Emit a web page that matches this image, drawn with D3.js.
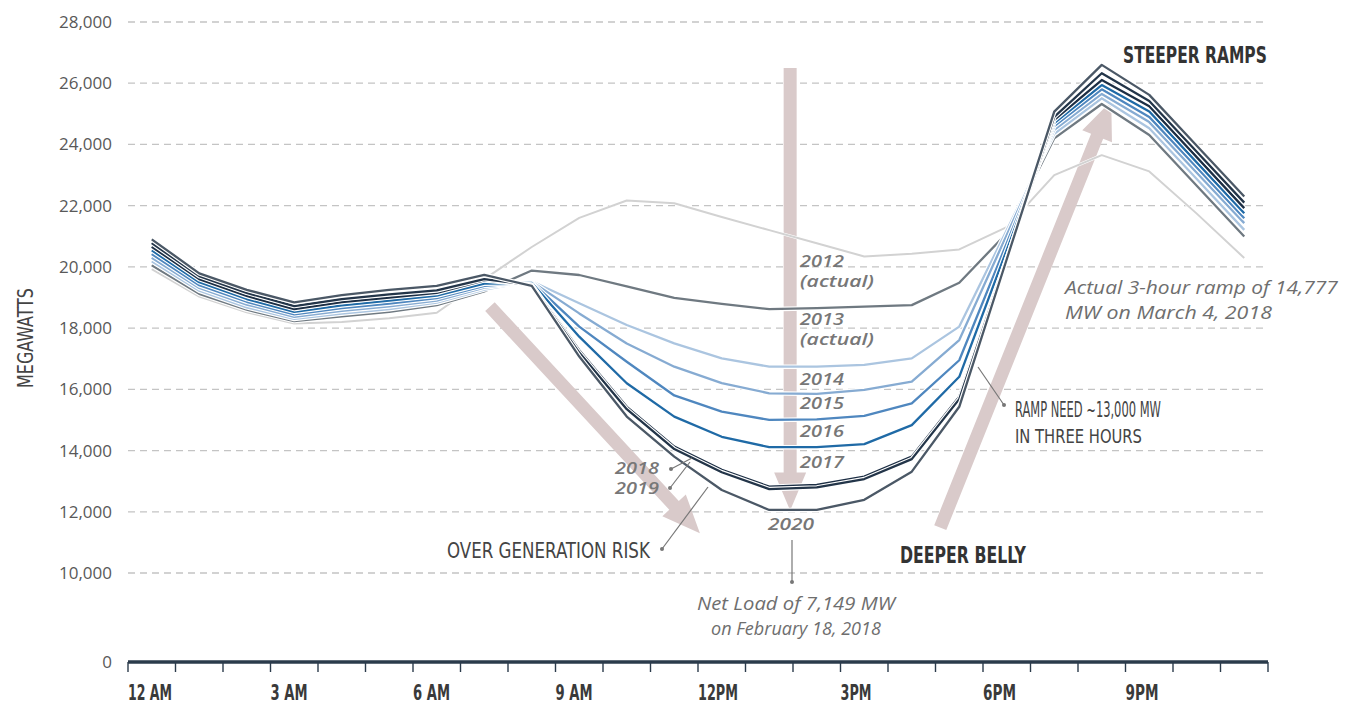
<!DOCTYPE html>
<html><head><meta charset="utf-8">
<script src="https://cdn.jsdelivr.net/npm/d3@7"></script>
<style>
body{margin:0;background:#fff;}
svg{display:block;}
</style></head><body>
<svg id="chart" width="1352" height="704"></svg>
<script>
// ---------- DATA ----------
const hours = [0,1,2,3,4,5,6,7,8,9,10,11,12,13,14,15,16,17,18,19,20,21,22,23];
const years = ["2012","2013","2014","2015","2016","2017","2018","2019","2020"];
const load2012 = [19930,19030,18520,18150,18200,18320,18500,19600,20650,21600,22170,22080,21630,21200,20770,20340,20430,20570,21300,23000,23650,23120,21740,20290];
const load2013 = [20050,19120,18600,18230,18380,18530,18750,19200,19880,19735,19360,18990,18790,18620,18650,18700,18750,19480,21100,24200,25320,24310,22650,20990];
const load2014 = [20180,19220,18680,18300,18470,18620,18830,19260,19530,18810,18100,17500,17010,16740,16740,16800,17010,18050,21200,24350,25510,24530,22870,21210];
const load2015 = [20300,19310,18770,18370,18560,18710,18900,19320,19520,18480,17500,16740,16200,15870,15850,15980,16250,17610,21045,24480,25650,24730,23080,21430];
const load2016 = [20420,19400,18860,18450,18650,18800,18980,19380,19500,18050,16900,15800,15270,15000,15020,15130,15540,16950,20775,24600,25800,24900,23245,21590];
const load2017 = [20540,19500,18950,18530,18740,18900,19060,19450,19480,17720,16200,15110,14450,14110,14110,14210,14830,16410,20555,24700,25940,25080,23415,21750];
const load2018 = [20660,19600,19050,18620,18850,19000,19150,19560,19420,17280,15430,14130,13370,12820,12875,13150,13800,15760,20280,24800,26105,25250,23585,21920];
const load2019 = [20780,19700,19150,18720,18950,19100,19230,19600,19400,17200,15350,14050,13290,12740,12795,13070,13720,15680,20275,24900,26325,25420,23760,22100];
const load2020 = [20900,19790,19250,18840,19080,19250,19380,19740,19380,17070,15110,13800,12710,12060,12060,12390,13310,15430,20250,25070,26600,25620,23960,22300];
const seriesValues = [load2012,load2013,load2014,load2015,load2016,load2017,load2018,load2019,load2020];
const seriesColors = ["#d2d2d2","#6f7981","#abc5e0","#86abd2","#4f87bf","#1f6aa6","#1c2e44","#233549","#4b5866"];

const yTicks = [0,10000,12000,14000,16000,18000,20000,22000,24000,26000,28000];
const xTickHours = [0,1,2,3,4,5,6,7,8,9,10,11,12,13,14,15,16,17,18,19,20,21,22,23,24];
const xLabelHours = [0,3,6,9,12,15,18,21];
const xLabels = ["12 AM","3 AM","6 AM","9 AM","12PM","3PM","6PM","9PM"];
const xLabelWidths = [44,37,37,37,40,31,33,33];

// ---------- SCALES ----------
const svg = d3.select("#chart");
const x = d3.scaleLinear().domain([0,24]).range([128,1268]);
const y = d3.scaleLinear().domain([0,10000,28000]).range([662,573,22]);

const condensed = "'Liberation Sans Narrow','DejaVu Sans Condensed','Roboto Condensed','Liberation Sans',sans-serif";
const humanist = "'Open Sans','Noto Sans',sans-serif";

// squeeze a text horizontally to a target width (keeps height)
function fitWidth(sel, xx, yy, target){
  const w = sel.node().getComputedTextLength();
  const s = w > 0 ? target / w : 1;
  sel.attr("x",0).attr("y",0).attr("transform",`translate(${xx},${yy}) scale(${s},1)`);
}

// gridlines
svg.append("g").selectAll("line").data(yTicks.filter(d=>d>0)).join("line")
  .attr("x1",x(0)).attr("x2",x(24))
  .attr("y1",d=>y(d)).attr("y2",d=>y(d))
  .attr("stroke","#c4c4c4").attr("stroke-width",1.3).attr("stroke-dasharray","7,5");

// y axis labels
const yAxis = svg.append("g").attr("transform","translate(128,0)")
  .call(d3.axisLeft(y).tickValues(yTicks).tickFormat(d3.format(",")).tickSize(0).tickPadding(16));
yAxis.select(".domain").remove();
yAxis.selectAll("text").attr("font-family",humanist).attr("font-size",17).attr("fill","#595959");

// y title
svg.append("text").attr("transform","translate(33,338) rotate(-90)")
  .attr("text-anchor","middle").attr("font-family",condensed).attr("font-size",21)
  .attr("fill","#444").attr("textLength",100).attr("lengthAdjust","spacingAndGlyphs").text("MEGAWATTS");

// ---------- ARROWS (annotation, in data space) ----------
const arrows = [
  {t:[13.94,26500], h:[13.94,12040]},
  {t:[7.62,18700], h:[12.04,11300]},
  {t:[17.10,11480], h:[20.70,25420]}
];
function arrowPath(a){
  const x1=x(a.t[0]), y1=y(a.t[1]), x2=x(a.h[0]), y2=y(a.h[1]);
  const dx=x2-x1, dy=y2-y1, len=Math.hypot(dx,dy), ux=dx/len, uy=dy/len, nx=-uy, ny=ux;
  const w=6.5, H=16, L=38;
  const bx=x2-ux*L, by=y2-uy*L;
  const p=[[x1+nx*w,y1+ny*w],[bx+nx*w,by+ny*w],[bx+nx*H,by+ny*H],[x2,y2],[bx-nx*H,by-ny*H],[bx-nx*w,by-ny*w],[x1-nx*w,y1-ny*w]];
  return "M"+p.map(q=>q.join(",")).join("L")+"Z";
}
svg.append("g").selectAll("path").data(arrows).join("path")
  .attr("d",arrowPath).attr("fill","#d9caca");

// ---------- LINES ----------
const line = d3.line().x((d,i)=>x(hours[i]+0.5)).y(d=>y(d));
const lg = svg.append("g");
seriesValues.forEach((vals,k)=>{
  lg.append("path").attr("d",line(vals)).attr("fill","none")
    .attr("stroke","#fff").attr("stroke-width",k===0?3:4.6).attr("stroke-linejoin","round");
  lg.append("path").attr("d",line(vals)).attr("fill","none")
    .attr("stroke",seriesColors[k]).attr("stroke-width",k===0?2:2.3).attr("stroke-linejoin","round");
});

// ---------- X AXIS ----------
svg.append("line").attr("x1",x(0)).attr("x2",x(24)).attr("y1",y(0)).attr("y2",y(0))
  .attr("stroke","#2b3b4b").attr("stroke-width",3.5);
svg.append("g").selectAll("line").data(xTickHours).join("line")
  .attr("x1",d=>x(d)).attr("x2",d=>x(d)).attr("y1",y(0)).attr("y2",y(0)+10)
  .attr("stroke","#2b3b4b").attr("stroke-width",1.4);
const xl = svg.append("g");
xLabelHours.forEach((h,i)=>{
  const e = xl.append("text").attr("font-family",condensed).attr("font-weight","bold")
    .attr("font-size",21).attr("fill","#3a3a3a").text(xLabels[i]);
  fitWidth(e, x(h), 700, xLabelWidths[i]);
});

// ---------- SERIES LABELS ----------
const lab = svg.append("g").attr("font-family",humanist).attr("font-style","italic")
  .attr("font-weight",600).attr("font-size",16).attr("fill","#777");
const seriesLabels = [
  ["2012",800,267,44],["(actual)",800,287,74],["2013",800,325,44],["(actual)",800,345,74],
  ["2014",800,385,44],["2015",800,409,44],["2016",800,437,44],["2017",800,468,44],
  ["2018",615,474,44],["2019",615,494,44],["2020",768,530,46]
];
seriesLabels.forEach(s=>{
  const e = lab.append("text").text(s[0]);
  fitWidth(e, s[1], s[2], s[3]);
});

// leader lines
const leaders = [
  [[671,469],[692,458]],
  [[670,488],[690,462]],
  [[662,549],[708,487]],
  [[792,582],[792,540]],
  [[1004,405],[978,367]]
];
const lead = svg.append("g");
leaders.forEach(l=>{
  lead.append("line").attr("x1",l[0][0]).attr("y1",l[0][1]).attr("x2",l[1][0]).attr("y2",l[1][1])
    .attr("stroke","#777").attr("stroke-width",1.2);
  lead.append("circle").attr("cx",l[0][0]).attr("cy",l[0][1]).attr("r",2).attr("fill","#777");
});

// ---------- ANNOTATION TEXT ----------
function t(txt,xx,yy,opt){
  const e=svg.append("text").text(txt)
    .attr("font-family",opt.family).attr("font-size",opt.size).attr("fill",opt.fill);
  if(opt.weight) e.attr("font-weight",opt.weight);
  if(opt.style) e.attr("font-style",opt.style);
  fitWidth(e, xx, yy, opt.len);
  return e;
}
t("STEEPER RAMPS",1123,63,{family:condensed,size:23,weight:"bold",fill:"#333",len:144});
t("DEEPER BELLY",900,563,{family:condensed,size:23,weight:"bold",fill:"#333",len:126});
t("OVER GENERATION RISK",447,558,{family:condensed,size:22,fill:"#444",len:203});
t("RAMP NEED ~13,000 MW",1015,417,{family:condensed,size:21,fill:"#444",len:146});
t("IN THREE HOURS",1015,443,{family:condensed,size:19,fill:"#444",len:127});
t("Actual 3-hour ramp of 14,777",1065,294,{family:humanist,size:18,style:"italic",fill:"#6e6e6e",len:273});
t("MW on March 4, 2018",1065,319,{family:humanist,size:18,style:"italic",fill:"#6e6e6e",len:207});
t("Net Load of 7,149 MW",697,610,{family:humanist,size:18,style:"italic",fill:"#6e6e6e",len:198});
t("on February 18, 2018",711,635,{family:humanist,size:18,style:"italic",fill:"#6e6e6e",len:170});
</script>
</body></html>
